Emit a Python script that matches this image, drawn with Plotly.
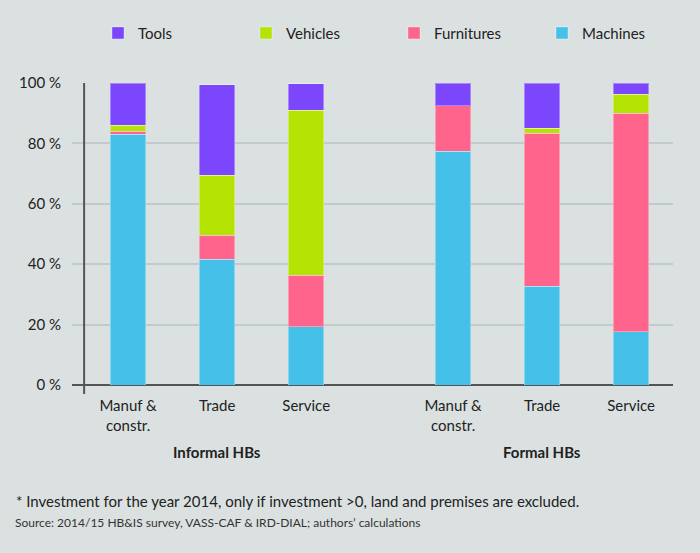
import plotly.graph_objects as go

# positions of the six bars (gap between informal and formal groups)
x_pos = [0, 1, 2, 3.65, 4.65, 5.65]
sectors = ['Manuf &<br>constr.', 'Trade', 'Service', 'Manuf &<br>constr.', 'Trade', 'Service']

machines = [83.0, 41.6, 19.3, 77.4, 32.7, 17.6]
furnitures = [1.1, 8.0, 17.1, 15.0, 50.6, 72.4]
vehicles = [1.9, 19.9, 54.6, 0.0, 1.7, 6.3]
tools = [14.0, 30.0, 8.8, 7.6, 15.0, 3.7]

y_ticks = [0, 20, 40, 60, 80, 100]
y_labels = [f'{v} %' for v in y_ticks]

groups = ['Informal HBs', 'Formal HBs']
group_pos = [1, 4.65]

FONT = 'Lato, sans-serif'
BG = '#dbe1e1'

series = [
    ('Machines', machines, '#45c0e8'),
    ('Furnitures', furnitures, '#ff648c'),
    ('Vehicles', vehicles, '#b4e304'),
    ('Tools', tools, '#7b46fc'),
]

fig = go.Figure()
for name, vals, color in series:
    fig.add_trace(go.Bar(
        name=name,
        x=x_pos,
        y=vals,
        width=0.4,
        marker=dict(color=color, line=dict(color='rgba(255,255,255,0.35)', width=1)),
    ))

# group captions
for g, gx in zip(groups, group_pos):
    fig.add_annotation(x=gx, y=-0.222, xref='x', yref='paper', text=f'<b>{g}</b>',
                       showarrow=False, font=dict(size=15, color='#222'), yanchor='middle')

# footnotes
fig.add_annotation(x=-0.097, y=-0.385, xref='paper', yref='paper', xanchor='left', yanchor='middle',
                   text='* Investment for the year 2014, only if investment >0, land and premises are excluded.',
                   showarrow=False, font=dict(size=15, color='#222'))
fig.add_annotation(x=-0.099, y=-0.456, xref='paper', yref='paper', xanchor='left', yanchor='middle',
                   text='Source: 2014/15 HB&IS survey, VASS-CAF & IRD-DIAL; authors\u2019 calculations',
                   showarrow=False, font=dict(size=12, color='#333'))

# vertical axis line, sticking out a little below zero
fig.add_shape(type='line', xref='x', yref='paper', x0=-0.494, x1=-0.494, y0=-0.03, y1=1.0,
              line=dict(color='#555', width=2))

fig.update_layout(
    width=700,
    height=553,
    margin=dict(l=72, r=27, t=83, b=168, autoexpand=False),
    paper_bgcolor=BG,
    plot_bgcolor=BG,
    barmode='stack',
    font=dict(family=FONT, size=15, color='#222'),
    legend=dict(
        orientation='h',
        traceorder='reversed',
        xref='container', yref='container',
        x=0.14, xanchor='left',
        y=0.94, yanchor='middle',
        entrywidth=103,
        entrywidthmode='pixels',
        font=dict(size=15),
        bgcolor='rgba(0,0,0,0)',
    ),
    xaxis=dict(
        range=[-0.63, 6.12],
        tickvals=x_pos,
        ticktext=sectors,
        showgrid=False,
        zeroline=False,
        showline=False,
        ticks='',
        ticklabelstandoff=10,
        fixedrange=True,
    ),
    yaxis=dict(
        range=[0, 100],
        tickvals=y_ticks,
        ticktext=y_labels,
        showgrid=True,
        gridcolor='#c2cbcb',
        gridwidth=1.5,
        zeroline=True,
        zerolinecolor='#555',
        zerolinewidth=2,
        showline=False,
        ticks='',
        ticklabelstandoff=10,
        fixedrange=True,
    ),
)

# drop the page's default body margin so the chart sits flush in the window
fig.write_html('out.html', config={'displayModeBar': False},
               post_script="document.body.style.margin='0';")
